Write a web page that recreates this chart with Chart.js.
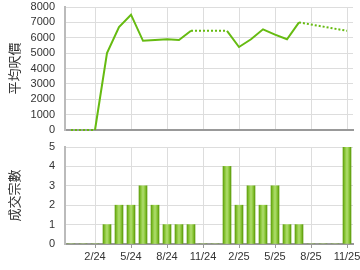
<!DOCTYPE html>
<html>
<head>
<meta charset="utf-8">
<script src="https://cdn.jsdelivr.net/npm/chart.js@4"></script>
<style>
  body { margin: 0; background: #fff; width: 360px; height: 270px; overflow: hidden; }
  canvas { position: absolute; left: 0; }
  #priceChart { top: 0; }
  #dealChart { top: 135px; }
</style>
</head>
<body>
<canvas id="priceChart" width="360" height="138"></canvas>
<canvas id="dealChart" width="360" height="135"></canvas>
<script>
const months = ["12/23", "1/24", "2/24", "3/24", "4/24", "5/24", "6/24", "7/24", "8/24", "9/24", "10/24", "11/24",
  "12/24", "1/25", "2/25", "3/25", "4/25", "5/25", "6/25", "7/25", "8/25", "9/25", "10/25", "11/25"];

// 平均呎價 (null = 當月沒有成交)
const avgPrice = [0, 0, 0, 5000, 6700, 7500, 5800, 5850, 5900, 5850, 6450, null,
  null, 6450, 5400, 5900, 6550, 6200, 5900, 7000, null, null, null, 6450];

// 成交宗數
const deals = [0, 0, 0, 1, 2, 2, 3, 2, 1, 1, 1, 0,
  0, 4, 2, 3, 2, 3, 1, 1, 0, 0, 0, 5];

const priceTicks = [0, 1000, 2000, 3000, 4000, 5000, 6000, 7000, 8000];
const dealTicks = [0, 1, 2, 3, 4, 5];

const font = { family: "'Liberation Sans', Arial, sans-serif", size: 11 };
const titleFont = { family: "'Noto Sans CJK TC', sans-serif", size: 13 };
const green = "#66bb11";

const showGrid = (i) => i % 3 === 2;

// chart area is placed with layout.padding only
const noPad = (scale) => {
	scale.paddingLeft = 0;
	scale.paddingRight = 0;
	scale.paddingTop = 0;
	scale.paddingBottom = 0;
};

function xAxis(withLabels, height) {
	return {
		offset: true,
		afterFit: (scale) => { scale.height = height; noPad(scale); },
		border: { color: "#999", width: 2 },
		grid: {
			offset: false,
			color: (c) => (showGrid(c.index) ? "#ddd" : "rgba(0,0,0,0)"),
			tickColor: (c) => (showGrid(c.index) ? "#999" : "rgba(0,0,0,0)"),
			drawTicks: withLabels,
			tickLength: 4,
		},
		ticks: {
			display: withLabels,
			autoSkip: false,
			maxRotation: 0,
			padding: 2,
			color: "#333",
			font: font,
			callback: (v, i) => (showGrid(i) ? months[i] : ""),
		},
	};
}

function yAxis(title, tickValues) {
	return {
		min: tickValues[0],
		max: tickValues[tickValues.length - 1],
		afterFit: (scale) => { scale.width = 65; noPad(scale); },
		afterBuildTicks: (scale) => { scale.ticks = tickValues.map((v) => ({ value: v })); },
		border: { color: "#bbb", width: 2 },
		grid: { color: "#ddd", drawTicks: false },
		ticks: { color: "#333", font: font, padding: 10, autoSkip: false, callback: (v) => String(v) },
		title: { display: true, text: title, color: "#333", font: titleFont, padding: { top: 6, bottom: 0 } },
	};
}

// 沒有成交的月份用點線連接
const dotted = (c) =>
	(c.p0.skip || c.p1.skip || avgPrice[c.p1DataIndex] === 0 ? [2, 2] : undefined);

new Chart(document.getElementById("priceChart"), {
	type: "line",
	data: {
		labels: months,
		datasets: [{
			data: avgPrice,
			borderColor: green,
			borderWidth: 2,
			pointRadius: 0,
			tension: 0,
			spanGaps: true,
			clip: false,
			segment: { borderDash: dotted },
		}],
	},
	options: {
		responsive: false,
		animation: false,
		layout: { autoPadding: false, padding: { top: 7, right: 7, left: 0, bottom: 0 } },
		plugins: { legend: { display: false }, tooltip: { enabled: false } },
		scales: {
			x: xAxis(false, 8),
			y: yAxis("平均呎價", priceTicks),
		},
	},
});

function barFill(c) {
	const chart = c.chart;
	const x = chart.scales.x;
	if (!x || x.width == null) return "#8c3";
	const cx = x.getPixelForValue(c.dataIndex);
	const g = chart.ctx.createLinearGradient(cx - 4, 0, cx + 4, 0);
	g.addColorStop(0, "#5f9f0c");
	g.addColorStop(0.25, "#8cc83a");
	g.addColorStop(0.5, "#b0dd70");
	g.addColorStop(0.75, "#8cc83a");
	g.addColorStop(1, "#5a9a08");
	return g;
}

new Chart(document.getElementById("dealChart"), {
	type: "bar",
	data: {
		labels: months,
		datasets: [{
			data: deals,
			backgroundColor: barFill,
			barThickness: 8,
		}],
	},
	options: {
		responsive: false,
		animation: false,
		layout: { autoPadding: false, padding: { top: 12, right: 7, left: 0, bottom: 0 } },
		plugins: { legend: { display: false }, tooltip: { enabled: false } },
		scales: {
			x: xAxis(true, 26),
			y: yAxis("成交宗數", dealTicks),
		},
	},
});
</script>
</body>
</html>
